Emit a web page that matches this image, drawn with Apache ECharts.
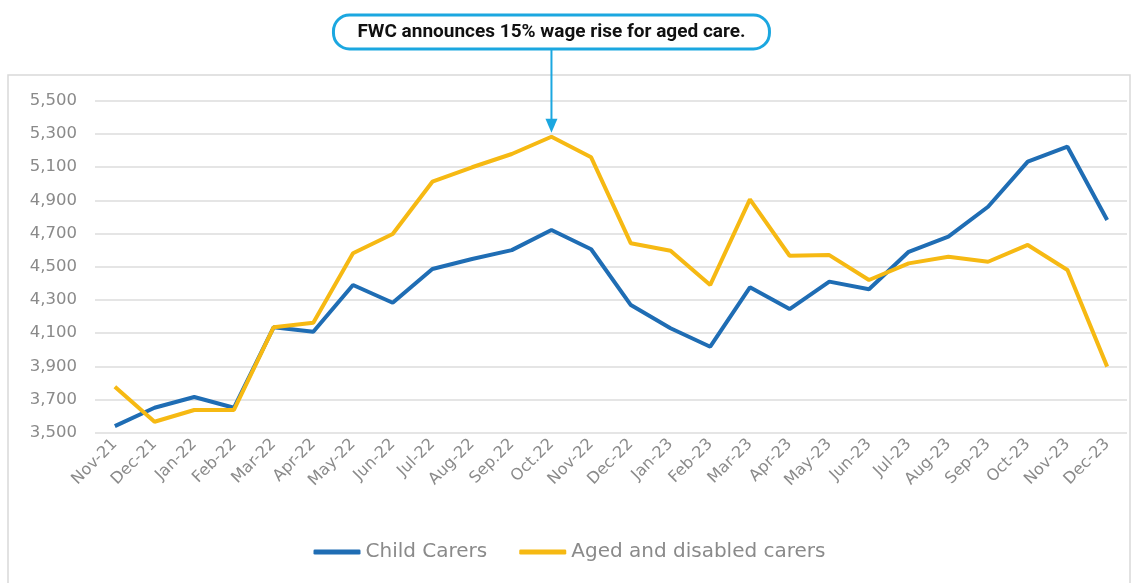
<!DOCTYPE html>
<html>
<head>
<meta charset="utf-8">
<script src="https://cdn.jsdelivr.net/npm/echarts@6/dist/echarts.min.js"></script>
<style>
html,body{margin:0;padding:0;background:#fff;}
#c{width:1139px;height:583px;}
</style>
</head>
<body>
<div id="c"></div>
<script>
const categories = ["Nov-21","Dec-21","Jan-22","Feb-22","Mar-22","Apr-22","May-22","Jun-22","Jul-22","Aug-22","Sep.22","Oct.22","Nov-22","Dec-22","Jan-23","Feb-23","Mar-23","Apr-23","May-23","Jun-23","Jul-23","Aug-23","Sep-23","Oct-23","Nov-23","Dec-23"];
const childCarers = [3540,3650,3715,3650,4135,4108,4390,4283,4486,4546,4600,4721,4605,4269,4129,4018,4376,4245,4410,4364,4590,4681,4861,5133,5223,4781];
const agedCarers = [3777,3566,3637,3637,4135,4163,4581,4697,5012,5099,5179,5283,5159,4641,4596,4390,4906,4566,4570,4420,4520,4560,4530,4631,4480,3898];
const seriesNames = ["Child Carers","Aged and disabled carers"];
const annotationText = "FWC announces 15% wage rise for aged care.";
const annotationIndex = 11;

const chart = echarts.init(document.getElementById('c'));
const font = "'DejaVu Sans'";
chart.setOption({
  animation:false,
  backgroundColor:'#fff',
  grid:{left:95,right:12,top:100.7,bottom:150.3,containLabel:false},
  legend:{
    bottom:16,left:'center',
    icon:'roundRect',itemWidth:47,itemHeight:5,itemGap:32,
    textStyle:{color:'#8a8a8a',fontFamily:font,fontSize:20},
    data:seriesNames
  },
  xAxis:{
    type:'category',data:categories,boundaryGap:true,
    axisLine:{show:false},axisTick:{show:false},
    axisLabel:{rotate:45,color:'#8a8a8a',fontFamily:font,fontSize:16,margin:9,interval:0}
  },
  yAxis:{
    type:'value',min:3500,max:5500,interval:200,
    axisLine:{show:false},axisTick:{show:false},
    splitLine:{lineStyle:{color:'#dcdcdc',width:1.5}},
    axisLabel:{color:'#8a8a8a',fontFamily:font,fontSize:16.5,margin:18,
      formatter:v=>v.toLocaleString('en-US')}
  },
  series:[
    {name:seriesNames[0],type:'line',data:childCarers,symbol:'none',
     lineStyle:{color:'#1f6db4',width:4},itemStyle:{color:'#1f6db4'}},
    {name:seriesNames[1],type:'line',data:agedCarers,symbol:'none',
     lineStyle:{color:'#f6b913',width:4},itemStyle:{color:'#f6b913'}}
  ]
});

const p = chart.convertToPixel({xAxisIndex:0,yAxisIndex:0},[annotationIndex,agedCarers[annotationIndex]]);
const ax = p[0], ay = p[1];
const boxW = 436, boxH = 34, boxTop = 15;
chart.setOption({
  graphic:[
    {type:'rect',shape:{x:8,y:75,width:1122,height:530},style:{fill:'none',stroke:'#d9d9d9',lineWidth:1.5},silent:true,z:0},
    {type:'rect',shape:{x:ax-boxW/2,y:boxTop,width:boxW,height:boxH,r:16},
     style:{fill:'#fff',stroke:'#1ba7e0',lineWidth:3},z:10},
    {type:'text',x:ax,y:boxTop+boxH/2,
     style:{text:annotationText,fill:'#111',font:'bold 19px Roboto',align:'center',verticalAlign:'middle'},z:11},
    {type:'line',shape:{x1:ax,y1:boxTop+boxH+1,x2:ax,y2:ay-14},style:{stroke:'#1ba7e0',lineWidth:2},z:10},
    {type:'polygon',shape:{points:[[ax-6,ay-18],[ax+6,ay-18],[ax,ay-4]]},style:{fill:'#1ba7e0'},z:10}
  ]
});
</script>
</body>
</html>
